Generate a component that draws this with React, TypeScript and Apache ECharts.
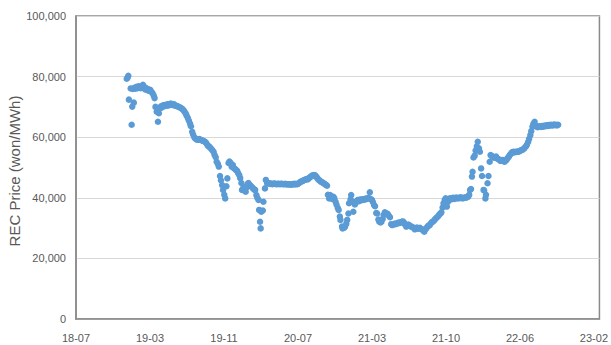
import React, { useEffect, useRef } from "react";
import * as echarts from "echarts";

type Trade = [string, number];

// REC spot prices (won/MWh) by trading day
const rec2018: Trade[] = [
  ["2018-12-21", 79300], ["2018-12-24", 79700], ["2018-12-26", 80300], ["2018-12-28", 72400],
];

const rec2019: Trade[] = [
  ["2019-01-03", 76100], ["2019-01-06", 64100], ["2019-01-08", 70100], ["2019-01-10", 75900],
  ["2019-01-13", 71400], ["2019-01-15", 76300], ["2019-01-18", 76000], ["2019-01-22", 76600],
  ["2019-01-25", 76200], ["2019-01-29", 76800], ["2019-02-01", 76500], ["2019-02-05", 76200],
  ["2019-02-08", 76900], ["2019-02-12", 77300], ["2019-02-15", 76700], ["2019-02-19", 75800],
  ["2019-02-22", 76200], ["2019-02-26", 75500], ["2019-03-01", 75900], ["2019-03-05", 75300],
  ["2019-03-08", 75600], ["2019-03-12", 74900], ["2019-03-15", 74600], ["2019-03-19", 73800],
  ["2019-03-22", 72900], ["2019-03-25", 70000], ["2019-03-29", 68400], ["2019-04-02", 65100],
  ["2019-04-05", 67900], ["2019-04-09", 69500], ["2019-04-12", 70200], ["2019-04-16", 69900],
  ["2019-04-19", 70500], ["2019-04-23", 70600], ["2019-04-26", 70300], ["2019-04-30", 70400],
  ["2019-05-03", 70900], ["2019-05-07", 70500], ["2019-05-10", 70700], ["2019-05-14", 71100],
  ["2019-05-17", 70800], ["2019-05-21", 70600], ["2019-05-24", 70900], ["2019-05-28", 70500],
  ["2019-05-31", 70300], ["2019-06-04", 70300], ["2019-06-07", 70100], ["2019-06-11", 69900],
  ["2019-06-14", 69800], ["2019-06-18", 69500], ["2019-06-21", 69300], ["2019-06-25", 68900],
  ["2019-06-28", 68400], ["2019-07-02", 67800], ["2019-07-05", 67100], ["2019-07-09", 66300],
  ["2019-07-12", 65500], ["2019-07-16", 64500], ["2019-07-19", 63600], ["2019-07-23", 61800],
  ["2019-07-26", 60900], ["2019-07-30", 60000], ["2019-08-02", 59600], ["2019-08-06", 59300],
  ["2019-08-09", 59200], ["2019-08-13", 59200], ["2019-08-16", 59400], ["2019-08-20", 59100],
  ["2019-08-23", 59000], ["2019-08-27", 58800], ["2019-08-30", 58700], ["2019-09-03", 58500],
  ["2019-09-06", 58200], ["2019-09-10", 57600], ["2019-09-13", 57100], ["2019-09-17", 56900],
  ["2019-09-20", 56500], ["2019-09-24", 56100], ["2019-09-27", 55700], ["2019-10-01", 55200],
  ["2019-10-04", 54200], ["2019-10-08", 53400], ["2019-10-11", 51900], ["2019-10-15", 51200],
  ["2019-10-18", 50300], ["2019-10-22", 47200], ["2019-10-25", 45800], ["2019-10-29", 44200],
  ["2019-11-01", 42600], ["2019-11-05", 41000], ["2019-11-08", 39800], ["2019-11-12", 43800],
  ["2019-11-15", 46400], ["2019-11-19", 51500], ["2019-11-22", 52000], ["2019-11-26", 51500],
  ["2019-11-29", 50300], ["2019-12-03", 50800], ["2019-12-06", 49800], ["2019-12-10", 49600],
  ["2019-12-13", 49200], ["2019-12-17", 48900], ["2019-12-20", 48200], ["2019-12-24", 47500],
  ["2019-12-27", 46500], ["2019-12-31", 44900],
];

const rec2020: Trade[] = [
  ["2020-01-02", 42600], ["2020-01-07", 43600], ["2020-01-10", 42400], ["2020-01-14", 42000],
  ["2020-01-17", 43400], ["2020-01-21", 44600], ["2020-01-23", 44900], ["2020-01-28", 44200],
  ["2020-01-31", 43900], ["2020-02-04", 43500], ["2020-02-07", 43100], ["2020-02-11", 42700],
  ["2020-02-14", 42600], ["2020-02-18", 40900], ["2020-02-21", 40000], ["2020-02-25", 39300],
  ["2020-02-27", 36000], ["2020-03-01", 32100], ["2020-03-03", 29900], ["2020-03-05", 35400],
  ["2020-03-10", 35800], ["2020-03-12", 38700], ["2020-03-17", 43100], ["2020-03-20", 45900],
  ["2020-03-24", 44900], ["2020-03-27", 44700], ["2020-03-31", 44800], ["2020-04-03", 44600],
  ["2020-04-07", 44700], ["2020-04-10", 44500], ["2020-04-14", 44600], ["2020-04-17", 44700],
  ["2020-04-21", 44600], ["2020-04-24", 44500], ["2020-04-28", 44600], ["2020-05-01", 44600],
  ["2020-05-05", 44500], ["2020-05-08", 44600], ["2020-05-12", 44600], ["2020-05-15", 44500],
  ["2020-05-19", 44500], ["2020-05-22", 44600], ["2020-05-26", 44500], ["2020-05-29", 44400],
  ["2020-06-02", 44500], ["2020-06-05", 44400], ["2020-06-09", 44500], ["2020-06-12", 44300],
  ["2020-06-16", 44500], ["2020-06-19", 44600], ["2020-06-23", 44400], ["2020-06-26", 44600],
  ["2020-06-30", 44500], ["2020-07-03", 44600], ["2020-07-07", 44900], ["2020-07-10", 45200],
  ["2020-07-14", 45400], ["2020-07-17", 45500], ["2020-07-21", 45700], ["2020-07-24", 45900],
  ["2020-07-28", 46000], ["2020-07-31", 46200], ["2020-08-04", 46100], ["2020-08-07", 46400],
  ["2020-08-11", 46800], ["2020-08-14", 47000], ["2020-08-18", 47300], ["2020-08-21", 47400],
  ["2020-08-25", 47500], ["2020-08-28", 47400], ["2020-09-01", 47000], ["2020-09-04", 46500],
  ["2020-09-08", 46000], ["2020-09-11", 45800], ["2020-09-15", 45400], ["2020-09-18", 45200],
  ["2020-09-22", 45000], ["2020-09-25", 44800], ["2020-09-29", 44500], ["2020-10-02", 44300],
  ["2020-10-06", 44000], ["2020-10-09", 41000], ["2020-10-13", 39800], ["2020-10-16", 40900],
  ["2020-10-20", 40400], ["2020-10-23", 39600], ["2020-10-27", 40300], ["2020-10-30", 39800],
  ["2020-11-03", 38700], ["2020-11-06", 37800], ["2020-11-10", 36700], ["2020-11-13", 36000],
  ["2020-11-17", 33800], ["2020-11-19", 32700], ["2020-11-24", 30500], ["2020-11-26", 29900],
  ["2020-12-01", 30100], ["2020-12-04", 30500], ["2020-12-08", 31400], ["2020-12-11", 32700],
  ["2020-12-15", 34800], ["2020-12-17", 38200], ["2020-12-22", 39500], ["2020-12-24", 40900],
  ["2020-12-29", 38700], ["2020-12-31", 35400],
];

const rec2021: Trade[] = [
  ["2021-01-05", 37800], ["2021-01-08", 38400], ["2021-01-12", 39000], ["2021-01-15", 39300],
  ["2021-01-19", 38900], ["2021-01-22", 39400], ["2021-01-26", 39200], ["2021-01-29", 39500],
  ["2021-02-02", 39300], ["2021-02-05", 39600], ["2021-02-09", 39500], ["2021-02-12", 39800],
  ["2021-02-16", 39700], ["2021-02-19", 39900], ["2021-02-23", 41800], ["2021-02-26", 39600],
  ["2021-03-02", 39300], ["2021-03-05", 38600], ["2021-03-09", 37600], ["2021-03-12", 37200],
  ["2021-03-16", 35000], ["2021-03-19", 34800], ["2021-03-23", 32800], ["2021-03-26", 32100],
  ["2021-03-30", 31900], ["2021-04-02", 32100], ["2021-04-06", 33000], ["2021-04-09", 34300],
  ["2021-04-13", 35200], ["2021-04-16", 34900], ["2021-04-20", 34800], ["2021-04-23", 34600],
  ["2021-04-27", 34000], ["2021-04-30", 33600], ["2021-05-04", 31300], ["2021-05-07", 31000],
  ["2021-05-11", 31200], ["2021-05-14", 31400], ["2021-05-18", 31300], ["2021-05-21", 31600],
  ["2021-05-25", 31500], ["2021-05-28", 31800], ["2021-06-01", 31700], ["2021-06-04", 31900],
  ["2021-06-08", 32100], ["2021-06-11", 32200], ["2021-06-15", 31800], ["2021-06-18", 31200],
  ["2021-06-22", 30500], ["2021-06-25", 30900], ["2021-06-29", 31200], ["2021-07-02", 30900],
  ["2021-07-06", 30600], ["2021-07-09", 30500], ["2021-07-13", 30300], ["2021-07-16", 30100],
  ["2021-07-20", 29600], ["2021-07-23", 29900], ["2021-07-27", 30200], ["2021-07-30", 29800],
  ["2021-08-03", 29900], ["2021-08-06", 30100], ["2021-08-10", 29700], ["2021-08-13", 29500],
  ["2021-08-17", 29400], ["2021-08-20", 28800], ["2021-08-24", 29600], ["2021-08-27", 30000],
  ["2021-08-31", 30500], ["2021-09-03", 30800], ["2021-09-07", 31000], ["2021-09-10", 31500],
  ["2021-09-14", 32000], ["2021-09-17", 32100], ["2021-09-21", 32500], ["2021-09-24", 32900],
  ["2021-09-28", 33300], ["2021-10-01", 33600], ["2021-10-05", 34000], ["2021-10-08", 34500],
  ["2021-10-12", 34800], ["2021-10-15", 35200], ["2021-10-19", 36800], ["2021-10-22", 38200],
  ["2021-10-26", 39300], ["2021-10-29", 39800], ["2021-11-02", 37100], ["2021-11-05", 38600],
  ["2021-11-09", 39200], ["2021-11-12", 39800], ["2021-11-16", 39500], ["2021-11-19", 39900],
  ["2021-11-23", 40000], ["2021-11-26", 39600], ["2021-11-30", 39900], ["2021-12-03", 40100],
  ["2021-12-07", 39800], ["2021-12-10", 40000], ["2021-12-14", 39900], ["2021-12-17", 40200],
  ["2021-12-21", 40000], ["2021-12-24", 39800], ["2021-12-28", 40000], ["2021-12-31", 40100],
];

const rec2022: Trade[] = [
  ["2022-01-04", 40000], ["2022-01-07", 40300], ["2022-01-11", 40400], ["2022-01-14", 41000],
  ["2022-01-17", 42600], ["2022-01-20", 42900], ["2022-01-23", 47000], ["2022-01-25", 48600],
  ["2022-01-28", 53300], ["2022-02-01", 53900], ["2022-02-04", 55600], ["2022-02-08", 57000],
  ["2022-02-11", 58500], ["2022-02-15", 56300], ["2022-02-18", 55200], ["2022-02-22", 49700],
  ["2022-02-25", 47200], ["2022-03-02", 42600], ["2022-03-04", 42400], ["2022-03-08", 39800],
  ["2022-03-10", 41000], ["2022-03-15", 44800], ["2022-03-18", 47200], ["2022-03-22", 51900],
  ["2022-03-25", 54100], ["2022-03-29", 53800], ["2022-04-01", 53600], ["2022-04-05", 53200],
  ["2022-04-08", 53400], ["2022-04-12", 53600], ["2022-04-15", 53000], ["2022-04-19", 52800],
  ["2022-04-22", 52600], ["2022-04-26", 52200], ["2022-04-29", 52400], ["2022-05-03", 52500],
  ["2022-05-06", 52100], ["2022-05-10", 51900], ["2022-05-13", 52300], ["2022-05-17", 52600],
  ["2022-05-20", 53200], ["2022-05-24", 53600], ["2022-05-27", 54200], ["2022-05-31", 54600],
  ["2022-06-03", 55000], ["2022-06-07", 55200], ["2022-06-10", 55000], ["2022-06-14", 55200],
  ["2022-06-17", 55100], ["2022-06-21", 55300], ["2022-06-24", 55200], ["2022-06-28", 55400],
  ["2022-07-01", 55600], ["2022-07-05", 55800], ["2022-07-08", 55900], ["2022-07-12", 56200],
  ["2022-07-15", 56600], ["2022-07-19", 57000], ["2022-07-22", 57600], ["2022-07-26", 58500],
  ["2022-07-29", 59500], ["2022-08-02", 60700], ["2022-08-05", 62000], ["2022-08-09", 63500],
  ["2022-08-12", 64400], ["2022-08-16", 65100], ["2022-08-19", 63800], ["2022-08-23", 63500],
  ["2022-08-26", 63300], ["2022-08-30", 63500], ["2022-09-02", 63600], ["2022-09-06", 63400],
  ["2022-09-09", 63700], ["2022-09-13", 63500], ["2022-09-16", 63800], ["2022-09-20", 63600],
  ["2022-09-23", 63900], ["2022-09-27", 63700], ["2022-09-30", 64000], ["2022-10-04", 63800],
  ["2022-10-07", 64100], ["2022-10-11", 64000], ["2022-10-14", 63900], ["2022-10-18", 64200],
  ["2022-10-21", 64000], ["2022-10-25", 64100], ["2022-10-28", 63900], ["2022-11-01", 64100],
];

const yTitle = "REC Price (won/MWh)";
const yTicks = { min: 0, max: 100000, step: 20000 };

// date axis: labels every 242 days from 2018-07-08, formatted yy-MM
const DAY_MS = 86400000;
const axisStartDay = Date.UTC(2018, 6, 8) / DAY_MS;
const axisStepDays = 242;
const axisSpanDays = 1712;

const toDay = (s: string) => {
  const [y, m, d] = s.split("-").map(Number);
  return Date.UTC(y, m - 1, d) / DAY_MS;
};

const allTrades: Trade[] = [...rec2018, ...rec2019, ...rec2020, ...rec2021, ...rec2022];

const FONT = "'Liberation Sans', Arial, sans-serif";
const TEXT = "#595959";

export default function App() {
  const ref = useRef<HTMLDivElement>(null);

  useEffect(() => {
    if (!ref.current) return;
    const chart = echarts.init(ref.current, undefined, { renderer: "svg" });
    chart.setOption({
      animation: false,
      backgroundColor: "#ffffff",
      grid: {
        left: 76,
        right: 7,
        top: 16,
        bottom: 26,
        show: true,
        borderColor: "#8a8a8a",
        borderWidth: 1.5,
        backgroundColor: "transparent",
      },
      xAxis: {
        type: "value",
        min: axisStartDay,
        max: axisStartDay + axisSpanDays,
        interval: axisStepDays,
        splitLine: { show: false },
        axisTick: { show: false },
        axisLine: { show: true, lineStyle: { color: "#8a8a8a", width: 1.5 } },
        axisLabel: {
          color: TEXT,
          fontFamily: FONT,
          fontSize: 11,
          margin: 13,
          showMaxLabel: false,
          formatter: (v: number) => {
            const off = Math.round(v - axisStartDay);
            if (off % axisStepDays !== 0) return "";
            const dt = new Date(v * DAY_MS);
            const yy = String(dt.getUTCFullYear() % 100).padStart(2, "0");
            const mm = String(dt.getUTCMonth() + 1).padStart(2, "0");
            return `${yy}-${mm}`;
          },
        },
      },
      yAxis: {
        type: "value",
        min: yTicks.min,
        max: yTicks.max,
        interval: yTicks.step,
        axisLine: { show: true, lineStyle: { color: "#8a8a8a", width: 1.5 } },
        axisTick: { show: false },
        splitLine: { lineStyle: { color: "#d9d9d9", width: 1 } },
        axisLabel: {
          color: TEXT,
          fontFamily: FONT,
          fontSize: 11,
          margin: 10,
          formatter: (v: number) => v.toLocaleString("en-US"),
        },
      },
      graphic: [
        {
          type: "text",
          x: 14,
          y: 171,
          rotation: Math.PI / 2,
          style: {
            text: yTitle,
            fill: TEXT,
            font: `15px ${FONT}`,
            align: "center",
            verticalAlign: "middle",
          },
        },
      ],
      series: [
        {
          type: "scatter",
          symbol: "circle",
          symbolSize: 6.5,
          itemStyle: { color: "#5B9BD5", opacity: 1 },
          data: allTrades.map(([d, v]) => [toDay(d), v]),
        },
      ],
    });
    return () => chart.dispose();
  }, []);

  return (
    <div
      ref={ref}
      style={{ position: "absolute", left: 0, top: 0, width: 611, height: 345 }}
    />
  );
}
